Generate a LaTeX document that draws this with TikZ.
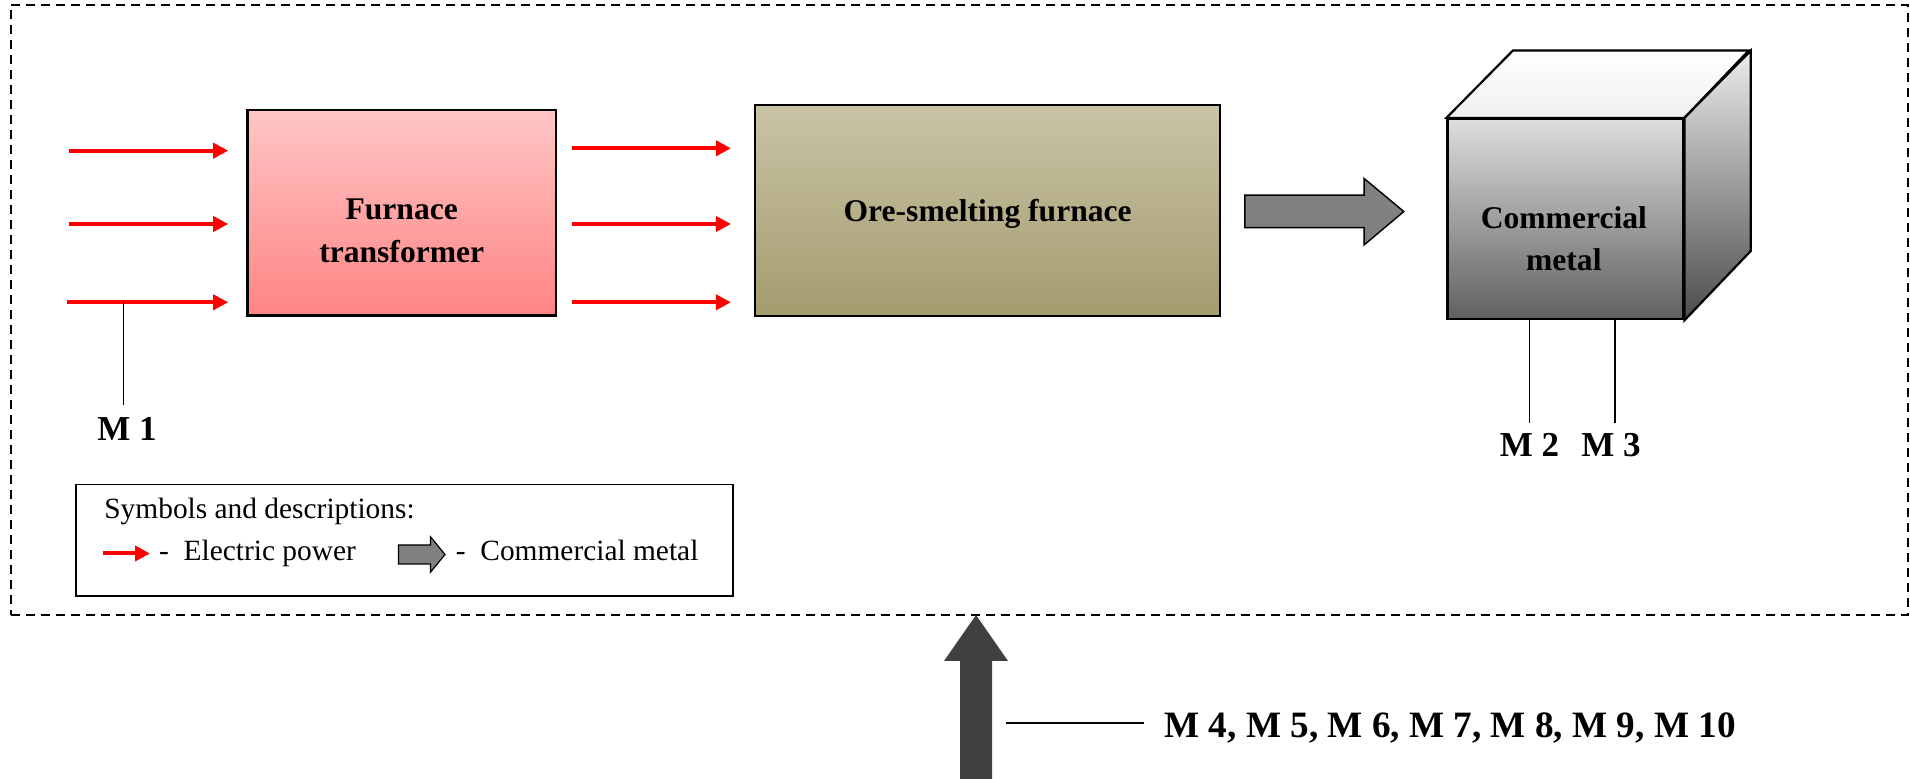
\documentclass[tikz,border=0pt]{standalone}
\usepackage{fontspec}
\setmainfont{Liberation Serif}
\usetikzlibrary{arrows.meta,calc}
\definecolor{epred}{RGB}{255,0,0}
\definecolor{trtop}{RGB}{255,198,198}
\definecolor{trbot}{RGB}{255,132,132}
\definecolor{oretop}{RGB}{201,196,166}
\definecolor{orebot}{RGB}{164,155,110}
\definecolor{cubetop}{RGB}{222,222,222}
\definecolor{cubebot}{RGB}{96,96,96}
\definecolor{sidetop}{RGB}{236,236,236}
\definecolor{sidebot}{RGB}{76,76,76}
\definecolor{blockgray}{RGB}{128,128,128}
\definecolor{bigarrow}{RGB}{64,64,64}
\begin{document}
\begin{tikzpicture}[x=0.5pt,y=-0.5pt,
  boxstyle/.style={draw=black,line width=1.1pt,inner sep=0pt},
  epow/.style={draw=epred,line width=2pt,-{Triangle[length=7.5pt,width=7.5pt]}},
  thinline/.style={draw=black,line width=0.7pt},
  headtext/.style={font=\fontsize{15.8pt}{20.85pt}\selectfont\bfseries,align=center,inner sep=0pt},
  mlab/.style={font=\fontsize{17.5pt}{20pt}\selectfont\bfseries,inner sep=0pt,anchor=base},
  legtext/.style={font=\fontsize{14.7pt}{17pt}\selectfont,inner sep=0pt,anchor=base west},
  blockarrow/.style={draw=black,line width=0.7pt,fill=blockgray,line join=miter}
]
\useasboundingbox (0,0) rectangle (1910,779);

% dashed frame
\node[draw=black,line width=0.8pt,dash pattern=on 4.5pt off 3pt,inner sep=0pt,
      minimum width=948.65pt,minimum height=305pt] (frame) at (959.35,310) {};

% furnace transformer
\node[boxstyle,top color=trtop,bottom color=trbot,
      minimum width=154.25pt,minimum height=102.75pt] (tr) at (401.75,212.75) {};
\node[headtext,font=\fontsize{15.8pt}{21.65pt}\selectfont\bfseries] (trtxt) at (401.75,231) {Furnace\\transformer};

% ore-smelting furnace
\node[boxstyle,top color=oretop,bottom color=orebot,
      minimum width=232.5pt,minimum height=105.35pt] (ore) at (987.5,210.65) {};
\node[headtext,anchor=base] (oretxt) at (987.7,222) {Ore-smelting furnace};

% commercial metal cube
\node[boxstyle,top color=cubetop,bottom color=cubebot,
      minimum width=117.9pt,minimum height=100.15pt] (cube) at (1565.4,219.15) {};
\draw[line width=1.1pt,top color=white,bottom color=gray!12,line join=miter]
  (cube.north west) -- ++(66.4,-67.3) -- ++(235.8,0) -- (cube.north east) -- cycle;
\draw[line width=1.1pt,top color=sidetop,bottom color=sidebot,line join=miter]
  (cube.north east) -- ++(66.4,-67.3) -- ++(0,200.3) -- (cube.south east) -- cycle;
\node[headtext] (cubetxt) at (1563.8,239) {Commercial\\metal};

% input electric power arrows
\coordinate (in1) at (69,150.7);
\coordinate (in2) at (69,224);
\coordinate (in3) at (66.7,302.3);
\foreach \i in {1,2,3}{
  \draw[epow,shorten >=9.1pt] (in\i) -- (tr.west |- in\i);
}
% transformer to furnace arrows
\coordinate (mid1) at (572,148.3);
\coordinate (mid2) at (572,224);
\coordinate (mid3) at (572,302.3);
\foreach \i in {1,2,3}{
  \draw[epow,shorten >=11.5pt] (mid\i) -- (ore.west |- mid\i);
}

% block arrow furnace -> metal
\coordinate (gaS) at ($(ore.east)+(23.7,0.9)$);
\draw[blockarrow] (gaS) ++(0,-16.4) -- ++(119.3,0) -- ++(0,-16.7) -- ++(39.7,33.1)
  -- ++(-39.7,33.4) -- ++(0,-17.3) -- ++(-119.3,0) -- cycle;

% M1
\coordinate (m1top) at (123.3,302.3);
\node[mlab] (m1) at (127,441) {M 1};
\draw[thinline,line width=0.75pt,shorten >=6.3pt] (m1top) -- (m1top |- m1.north);

% M2, M3
\node[mlab] (m2) at (1529.5,456.7) {M 2};
\node[mlab] (m3) at (1611,456.7) {M 3};
\draw[thinline,shorten >=5pt] (cube.south -| m2) -- (m2.north);
\draw[thinline,shorten >=5pt] ([xshift=2pt]cube.south -| m3) -- ([xshift=2pt]m3.north);

% legend
\node[draw=black,line width=0.7pt,inner sep=0pt,
      minimum width=328.5pt,minimum height=55.85pt] (leg) at (404.5,540.15) {};
\node[legtext] (legtitle) at (104,518.5) {Symbols and descriptions:};
\coordinate (lrs) at (103,553.5);
\coordinate (lre) at (150,553.5);
\draw[epow] (lrs) -- (lre);
\node[legtext] (legep) at (158.8,561) {-\ \ Electric power};
\coordinate (lgs) at (398.4,554.5);
\draw[blockarrow,line width=0.6pt] (lgs) ++(0,-9.5) -- ++(32,0) -- ++(0,-8.3) -- ++(14.6,17.8)
  -- ++(-14.6,17.8) -- ++(0,-8.3) -- ++(-32,0) -- cycle;
\node[legtext] (legcm) at (455.5,561) {-\ \ Commercial metal};

% big input arrow
\coordinate (uptip) at (976,615);
\fill[bigarrow] (uptip) -- ++(32,46) -- ++(-16,0) -- ++(0,118) -- ++(-32,0)
  -- ++(0,-118) -- ++(-16,0) -- cycle;
\coordinate (arrR) at (1006,722.7);
\node[font=\fontsize{18.6pt}{22pt}\selectfont\bfseries,inner sep=0pt,anchor=base west]
  (m4) at (1164,737.7) {M 4, M 5, M 6, M 7, M 8, M 9, M 10};
\draw[thinline,line width=1pt,shorten >=10.25pt] (arrR) -- (m4.west |- arrR);
\end{tikzpicture}
\end{document}
